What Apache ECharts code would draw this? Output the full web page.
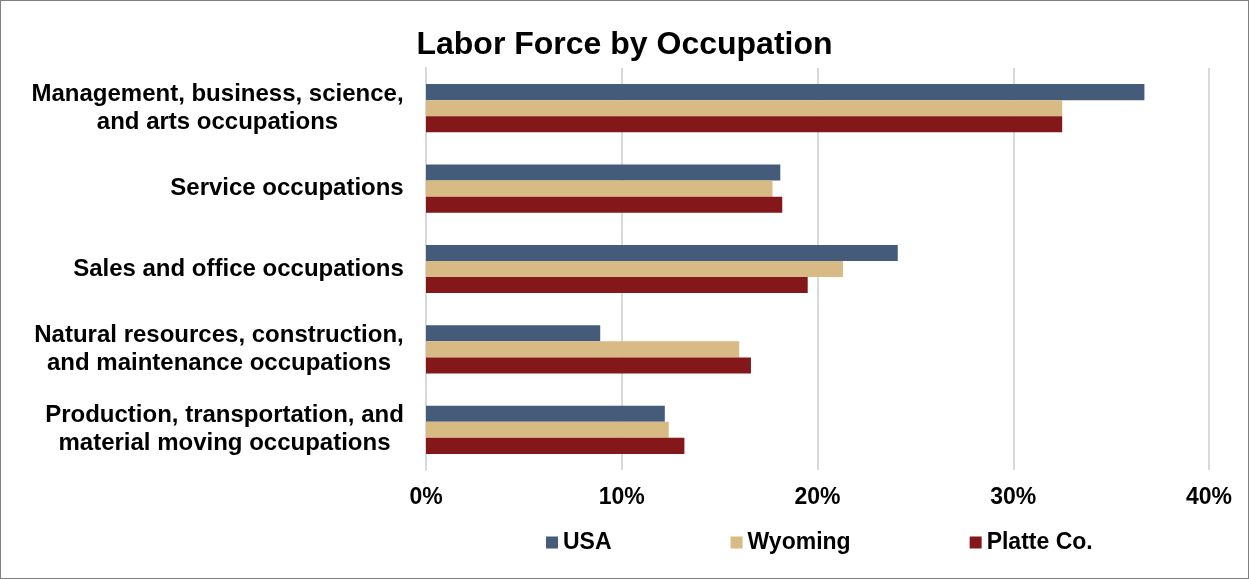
<!DOCTYPE html>
<html>
<head>
	<meta charset="utf-8">
	<title>Labor Force by Occupation</title>
	<style>
		html, body { margin: 0; padding: 0; background: #fff; }
		#main { width: 1247px; height: 577px; border: 1px solid #7f7f7f; }
	</style>
</head>
<body>
	<div id="main"></div>
	<script src="https://cdn.jsdelivr.net/npm/echarts@6/dist/echarts.min.js"></script>
	<script>
		var categories = [
			'Management, business, science,\nand arts occupations',
			'Service occupations',
			'Sales and office occupations',
			'Natural resources, construction,\nand maintenance occupations',
			'Production, transportation, and\nmaterial moving occupations'
		];
		var usa = [36.7, 18.1, 24.1, 8.9, 12.2];
		var wyoming = [32.5, 17.7, 21.3, 16.0, 12.4];
		var platte = [32.5, 18.2, 19.5, 16.6, 13.2];
		var seriesNames = ['USA', 'Wyoming', 'Platte Co.'];

		var font = 'Arial, "Liberation Sans", sans-serif';
		var labelSize = 24;

		// each label block is right aligned, its lines centred inside it
		var ctx = document.createElement('canvas').getContext('2d');
		ctx.font = 'bold ' + labelSize + 'px ' + font;
		var rich = {};
		categories.forEach(function (c, i) {
			var w = 0;
			c.split('\n').forEach(function (l) {
				w = Math.max(w, Math.ceil(ctx.measureText(l).width));
			});
			rich['c' + i] = {
				width: w, align: 'center', lineHeight: 28,
				fontFamily: font, fontSize: labelSize, fontWeight: 'bold', color: '#000'
			};
		});

		var myChart = echarts.init(document.getElementById('main'));
		var option = {
			animation: false,
			title: {
				text: 'Labor Force by Occupation',
				left: 'center',
				top: 23,
				textStyle: { fontFamily: font, fontSize: 32, fontWeight: 'bold', color: '#000' }
			},
			legend: {
				data: seriesNames,
				left: 540,
				top: 525,
				itemWidth: 12,
				itemHeight: 12,
				itemGap: 119,
				icon: 'rect',
				textStyle: { fontFamily: font, fontSize: 23, fontWeight: 'bold', color: '#000' }
			},
			grid: { left: 425, right: 39, top: 67, bottom: 108 },
			xAxis: {
				type: 'value',
				min: 0,
				max: 40,
				interval: 10,
				axisLine: { show: false },
				axisTick: { show: false },
				splitLine: { lineStyle: { color: '#d9d9d9', width: 2 } },
				axisLabel: {
					formatter: '{value}%',
					margin: 16,
					fontFamily: font, fontSize: 23, fontWeight: 'bold', color: '#000'
				}
			},
			yAxis: {
				type: 'category',
				data: categories,
				inverse: true,
				axisLine: { show: true, lineStyle: { color: '#d9d9d9', width: 2 } },
				axisTick: { show: false },
				axisLabel: {
					margin: 22,
					align: 'right',
					formatter: function (value, index) {
						return value.split('\n').map(function (l) {
							return '{c' + index + '|' + l + '}';
						}).join('\n');
					},
					rich: rich
				}
			},
			series: [
				{ name: seriesNames[0], type: 'bar', data: usa, barGap: '0%', barCategoryGap: '40%',
				  itemStyle: { color: '#445c7a' } },
				{ name: seriesNames[1], type: 'bar', data: wyoming,
				  itemStyle: { color: '#d8ba84' } },
				{ name: seriesNames[2], type: 'bar', data: platte,
				  itemStyle: { color: '#831719' } }
			]
		};
		myChart.setOption(option);
	</script>
</body>
</html>
